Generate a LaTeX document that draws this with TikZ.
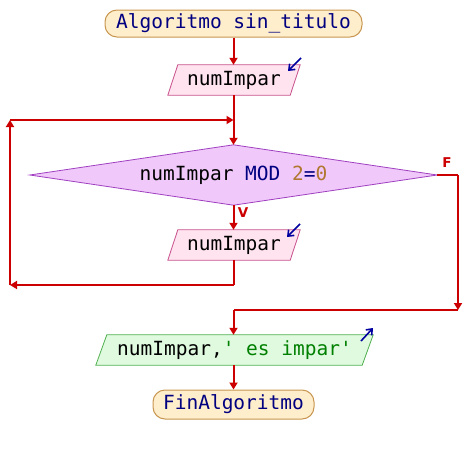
\documentclass[tikz,border=0pt]{standalone}
\usepackage{fontspec}
\setmonofont{DejaVu Sans Mono}
\setsansfont{DejaVu Sans}
\usetikzlibrary{arrows.meta}
\definecolor{flow}{RGB}{204,0,0}
\definecolor{kw}{RGB}{0,0,128}
\definecolor{num}{RGB}{176,120,48}
\definecolor{str}{RGB}{0,128,0}
\definecolor{termfill}{RGB}{255,238,204}
\definecolor{termdraw}{RGB}{200,150,80}
\definecolor{infill}{RGB}{255,228,240}
\definecolor{indraw}{RGB}{200,80,140}
\definecolor{decfill}{RGB}{240,200,250}
\definecolor{decdraw}{RGB}{160,64,192}
\definecolor{outfill}{RGB}{224,250,224}
\definecolor{outdraw}{RGB}{80,176,80}
\definecolor{ioarrow}{RGB}{0,0,160}
\tikzset{
  x=1pt, y=-1pt,
  every node/.style={font=\ttfamily\fontsize{19.5}{22}\selectfont, inner sep=0pt},
  term/.style={draw=termdraw, fill=termfill, line width=1pt, rounded corners=12pt, text=kw},
  box/.style={minimum width=#1, minimum height=30pt},
  flowline/.style={draw=flow, line width=2pt, -{Triangle[length=7pt,width=8pt]}},
  plain/.style={draw=flow, line width=2pt},
  lab/.style={text=flow, font=\sffamily\bfseries\fontsize{13.5}{14}\selectfont},
  ioarr/.style={draw=ioarrow, line width=1.6pt, -{Straight Barb[length=5pt,width=8pt]}}
}
\begin{document}
\begin{tikzpicture}
\useasboundingbox (0,0) rectangle (468,455);
% nodes
\node[term, minimum width=257pt, minimum height=27pt] (start) at (233.5,23.5) {Algoritmo sin\_titulo};
\node[box=132pt] (in1) at (234,80) {};
\node[box=132pt] (in2) at (234,245) {};
\node[minimum width=407pt, minimum height=60pt] (dec) at (233.5,175) {};
\node[box=277pt] (out) at (234.5,350) {};
\node[term, minimum width=161pt, minimum height=29pt] (fin) at (233.5,404.5) {FinAlgoritmo};
% shapes
\draw[draw=indraw, fill=infill, line width=0.8pt] ([xshift=10pt]in1.north west) -- (in1.north east) -- ([xshift=-10pt]in1.south east) -- (in1.south west) -- cycle;
\draw[draw=indraw, fill=infill, line width=0.8pt] ([xshift=10pt]in2.north west) -- (in2.north east) -- ([xshift=-10pt]in2.south east) -- (in2.south west) -- cycle;
\draw[draw=outdraw, fill=outfill, line width=0.8pt] ([xshift=11pt]out.north west) -- (out.north east) -- ([xshift=-11pt]out.south east) -- (out.south west) -- cycle;
\draw[draw=decdraw, fill=decfill, line width=0.8pt] (dec.west) -- (dec.north) -- (dec.east) -- (dec.south) -- cycle;
% texts
\node (t1) at (in1) {numImpar};
\node (t2) at (in2) {numImpar};
\node (t3) at (out) {numImpar,\textcolor{str}{' es impar'}};
\node (t4) at (dec) {numImpar \textcolor{kw}{MOD} \textcolor{num}{2}\textcolor{kw}{=}\textcolor{num}{0}};
% io arrows
\coordinate (a1s) at (301,58); \coordinate (a1e) at (288,71);
\draw[ioarr] (a1s) -- (a1e);
\coordinate (a2s) at (300,224); \coordinate (a2e) at (287,237);
\draw[ioarr] (a2s) -- (a2e);
\coordinate (a3s) at (361,341); \coordinate (a3e) at (373,328);
\draw[ioarr] (a3s) -- (a3e);
% connectors
\coordinate (j1) at (233.5,120);
\coordinate (j2) at (233.5,285);
\coordinate (l2) at (10,285);
\coordinate (l1) at (10,120);
\coordinate (r1) at (458,175);
\coordinate (r2) at (458,310);
\coordinate (j3) at (233.5,310);
\draw[flowline] (start.south) -- (in1.north -| start.south);
\draw[plain] (in1.south -| j1) -- (j1);
\draw[flowline] (j1) -- (dec.north);
\draw[flowline] (dec.south) -- (in2.north -| dec.south);
\draw[plain] (in2.south -| j2) -- (j2);
\draw[flowline] (j2) -- (l2);
\draw[flowline] (l2) -- (l1);
\draw[flowline] (l1) -- (j1);
\draw[plain] (dec.east) -- (r1);
\draw[flowline] (r1) -- (r2);
\draw[plain] (r2) -- (j3);
\draw[flowline] (j3) -- (out.north -| j3);
\draw[flowline] (out.south -| fin.north) -- (fin.north);
% labels
\node[lab] (lf) at (447,163) {F};
\node[lab] (lv) at (243,213) {V};
\end{tikzpicture}
\end{document}
